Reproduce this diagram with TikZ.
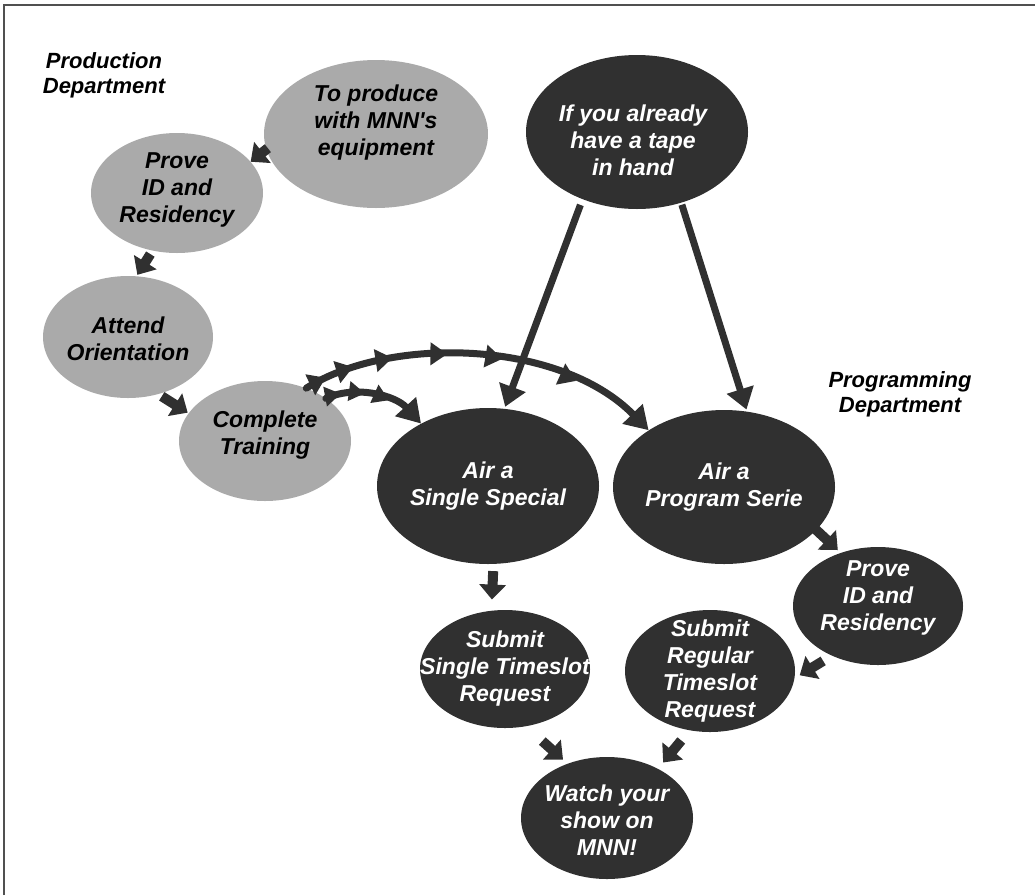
\documentclass[tikz,border=0pt]{standalone}
\usepackage{fontspec}
\setmainfont{Liberation Sans}
\usetikzlibrary{shapes.geometric,arrows.meta,decorations.markings}
\definecolor{darkfill}{RGB}{48,48,48}
\definecolor{grayfill}{RGB}{170,170,170}
\definecolor{framecol}{RGB}{80,80,80}
\tikzset{
  ell/.style={ellipse, inner sep=0pt, draw=none},
  grayell/.style={ell, fill=grayfill},
  darkell/.style={ell, fill=darkfill},
  txt/.style={font=\fontsize{23}{27}\selectfont\bfseries\itshape, align=center, inner sep=0pt},
  btxt/.style={txt, text=black},
  wtxt/.style={txt, text=white},
  deptlabel/.style={font=\fontsize{22}{25}\selectfont\bfseries\itshape, align=center, inner sep=0pt, text=black},
  blockarrow/.style={color=darkfill, line width=10pt, -{Triangle[width=26pt,length=15pt]}},
  tapearrow/.style={color=darkfill, line width=7pt, -{Triangle[width=27pt,length=21pt]}},
  longcurve/.style={color=darkfill, line width=7pt, line cap=round, -{Triangle[width=27pt,length=23pt]},
    postaction={decorate},
    decoration={markings,
      mark=at position 0.06 with {\arrow{Triangle[width=22pt,length=17pt]}},
      mark=at position 0.14 with {\arrow{Triangle[width=22pt,length=17pt]}},
      mark=at position 0.25 with {\arrow{Triangle[width=22pt,length=17pt]}},
      mark=at position 0.40 with {\arrow{Triangle[width=22pt,length=17pt]}},
      mark=at position 0.55 with {\arrow{Triangle[width=22pt,length=17pt]}},
      mark=at position 0.76 with {\arrow{Triangle[width=22pt,length=17pt]}}}},
  shortcurve/.style={color=darkfill, line width=7pt, line cap=round, -{Triangle[width=27pt,length=23pt]},
    postaction={decorate},
    decoration={markings,
      mark=at position 0.15 with {\arrow{Triangle[width=19pt,length=16pt]}},
      mark=at position 0.38 with {\arrow{Triangle[width=19pt,length=16pt]}},
      mark=at position 0.62 with {\arrow{Triangle[width=19pt,length=16pt]}}}}
}
\begin{document}
\begin{tikzpicture}[x=1pt,y=-1pt]
\useasboundingbox (0,0) rectangle (1035,895);
\draw[framecol, line width=2pt] (4,895) -- (4,5) -- (1035,5);

% labels
\node[deptlabel] (prodlabel) at (104,75) {Production\\Department};
\node[deptlabel] (proglabel) at (900,394) {Programming\\Department};

% ellipses
\node[grayell, minimum width=224pt, minimum height=148pt,
  label={[btxt,yshift=11pt]center:{To produce\\with MNN\textquotesingle s\\equipment}}] (produce) at (376,134) {};
\node[darkell, minimum width=222pt, minimum height=154pt,
  label={[wtxt,xshift=-4pt,yshift=-8pt]center:{If you already\\have a tape\\in hand}}] (tape) at (637,132) {};
\node[grayell, minimum width=172pt, minimum height=120pt,
  label={[btxt,yshift=3pt]center:{Prove\\ID and\\Residency}}] (proveP) at (177,193) {};
\node[grayell, minimum width=170pt, minimum height=122pt,
  label={[btxt,yshift=-2pt]center:{Attend\\Orientation}}] (attend) at (128,337) {};
\node[grayell, minimum width=172pt, minimum height=120pt,
  label={[btxt,yshift=6pt]center:{Complete\\Training}}] (complete) at (265,441) {};
\node[darkell, minimum width=222pt, minimum height=156pt,
  label={[wtxt]center:{Air a\\Single Special}}] (single) at (488,486) {};
\node[darkell, minimum width=222pt, minimum height=154pt,
  label={[wtxt]center:{Air a\\Program Serie}}] (program) at (724,487) {};
\node[darkell, minimum width=170pt, minimum height=118pt,
  label={[wtxt,yshift=8pt]center:{Prove\\ID and\\Residency}}] (proveR) at (878,606) {};
\node[darkell, minimum width=170pt, minimum height=118pt,
  label={[wtxt]center:{Submit\\Single Timeslot\\Request}}] (submitS) at (505,669) {};
\node[darkell, minimum width=170pt, minimum height=122pt,
  label={[wtxt]center:{Submit\\Regular\\Timeslot\\Request}}] (regular) at (710,671) {};
\node[darkell, minimum width=172pt, minimum height=122pt,
  label={[wtxt,yshift=-2pt]center:{Watch your\\show on\\MNN!}}] (watch) at (607,818) {};

% block arrows
\draw[blockarrow, shorten <=-2pt] (produce.188) -- (proveP.23);
\draw[blockarrow, shorten <=4pt, shorten >=1.5pt] (proveP.247) -- (attend.82);
\draw[blockarrow, shorten <=4pt, shorten >=1pt] (attend.-62) -- (complete.160);
\draw[blockarrow, shorten <=-2pt, shorten >=4pt] (program.-25) -- (proveR.125);
\draw[blockarrow, shorten <=10pt, shorten >=6pt] (proveR.227) -- (regular.-5);
\draw[blockarrow, shorten <=7pt, shorten >=11pt] (single.-86) -- (submitS.103);
\draw[blockarrow, shorten <=22pt, shorten >=6pt] (submitS.-70) -- (watch.126);
\draw[blockarrow, shorten <=13pt, shorten >=8pt] (regular.-109) -- (watch.44);

% lines from tape
\draw[tapearrow, shorten <=6pt, shorten >=2pt] (tape.231) -- (single.78);
\draw[tapearrow, shorten <=2pt, shorten >=2pt] (tape.-58) -- (program.73);

% curved arrows
\draw[longcurve] (complete.52) .. controls (390,335) and (560,340) .. (program.143);
\draw[shortcurve] (complete.35) .. controls (355,385) and (395,395) .. (single.137);
\end{tikzpicture}
\end{document}
